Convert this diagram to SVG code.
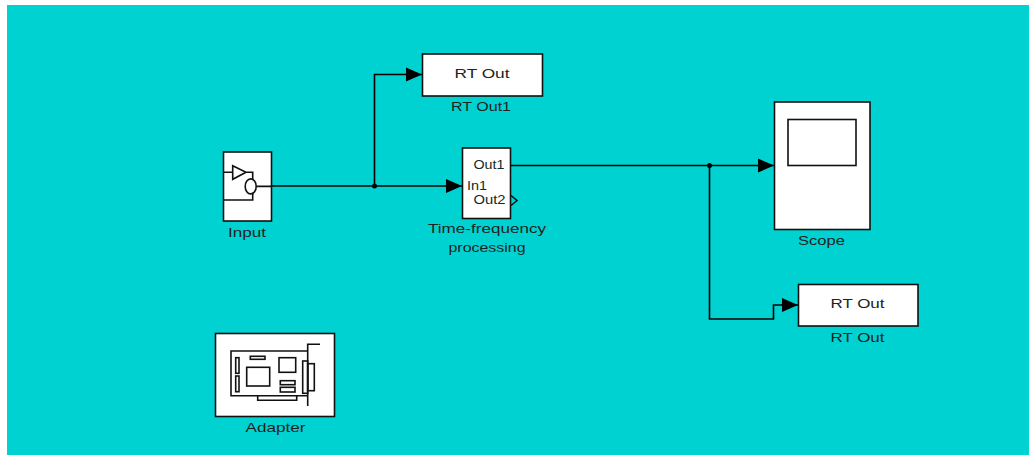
<svg xmlns="http://www.w3.org/2000/svg" width="1029" height="455" viewBox="0 0 1029 455">
<style>
.b{fill:#fff;stroke:#111;stroke-width:1.6}
.i{fill:none;stroke:#111;stroke-width:1.6}
.w{fill:none;stroke:#000;stroke-width:1.6}
text{font-family:"Liberation Sans",Arial,sans-serif;font-size:13.5px;fill:#102a2a}
.t{text-anchor:middle;fill:#222}
</style>
<defs>
<marker id="a" markerUnits="userSpaceOnUse" markerWidth="17" markerHeight="16" refX="16" refY="8" orient="auto"><path d="M0,1L16,8L0,15Z" fill="#000"/></marker>
</defs>
<rect x="7" y="5" width="1022" height="450" fill="#00d2d2"/>
<g id="connectors">
<path class="w" d="M271.500,186H462" marker-end="url(#a)"/>
<path class="w" d="M374.500,186V74.500H422" marker-end="url(#a)"/>
<path class="w" d="M510.500,165.500H774" marker-end="url(#a)"/>
<path class="w" d="M709.500,165.500V319H773.500V305H798" marker-end="url(#a)"/>
<circle cx="374.500" cy="186" r="2.500"/>
<circle cx="709.500" cy="165.500" r="2.500"/>
</g>
<g id="rt-out1">
<rect class="b" x="422.500" y="54" width="120" height="42"/>
<text class="t" x="482" y="78" textLength="55" lengthAdjust="spacingAndGlyphs">RT Out</text>
<text class="t" x="481" y="111" textLength="60" lengthAdjust="spacingAndGlyphs">RT Out1</text>
</g>
<g id="input">
<rect class="b" x="223.500" y="152" width="48" height="69"/>
<path class="i" d="M224,172.300H232.700M232.700,165.700L246,172.300L232.700,179.300ZM246,172.300H252.700V180M224,200H252.700V192.500M256.200,186.400H271"/>
<ellipse class="i" cx="250.700" cy="186.400" rx="5.500" ry="7.500"/>
<text class="t" x="247" y="237" textLength="38" lengthAdjust="spacingAndGlyphs">Input</text>
</g>
<g id="time-frequency-processing">
<rect class="b" x="462.500" y="148" width="48" height="70.500"/>
<text x="473.500" y="169" textLength="31" lengthAdjust="spacingAndGlyphs">Out1</text>
<text x="467" y="190" textLength="20" lengthAdjust="spacingAndGlyphs">In1</text>
<text x="473.500" y="204" textLength="32" lengthAdjust="spacingAndGlyphs">Out2</text>
<path class="i" d="M511,195.500L517,200.500L511,205.500"/>
<text class="t" x="487" y="233" textLength="118" lengthAdjust="spacingAndGlyphs">Time-frequency</text>
<text class="t" x="487" y="252" textLength="77" lengthAdjust="spacingAndGlyphs">processing</text>
</g>
<g id="scope">
<rect class="b" x="774.500" y="102" width="95.500" height="127.500"/>
<rect class="b" x="788" y="119.500" width="68" height="46"/>
<text class="t" x="821.500" y="245" textLength="47" lengthAdjust="spacingAndGlyphs">Scope</text>
</g>
<g id="rt-out">
<rect class="b" x="798.500" y="284.500" width="119.500" height="41.500"/>
<text class="t" x="857.500" y="308" textLength="54" lengthAdjust="spacingAndGlyphs">RT Out</text>
<text class="t" x="857.500" y="342" textLength="54" lengthAdjust="spacingAndGlyphs">RT Out</text>
</g>
<g id="adapter">
<rect class="b" x="215.500" y="333.500" width="119" height="83"/>
<path class="i" d="M307.700,351H231V395.700H307.700M257.700,395.700V400.300H296.700V395.700M320,344.300H307.700V406"/>
<rect class="i" x="235.700" y="357.700" width="3.300" height="15.600"/>
<rect class="i" x="235.700" y="376" width="3.300" height="15.700"/>
<rect class="i" x="250.300" y="356.300" width="14.700" height="3"/>
<rect class="i" x="246.700" y="367.300" width="23" height="18.700"/>
<rect class="i" x="279" y="357.700" width="16.700" height="14.600"/>
<rect class="i" x="280.300" y="380.700" width="14.700" height="4"/>
<rect class="i" x="280.300" y="387.300" width="14.700" height="4.700"/>
<rect class="i" x="302.700" y="361" width="5" height="32.300"/>
<rect class="i" x="307.700" y="363.700" width="6.600" height="27"/>
<text class="t" x="275.500" y="432" textLength="60" lengthAdjust="spacingAndGlyphs">Adapter</text>
</g>
</svg>
